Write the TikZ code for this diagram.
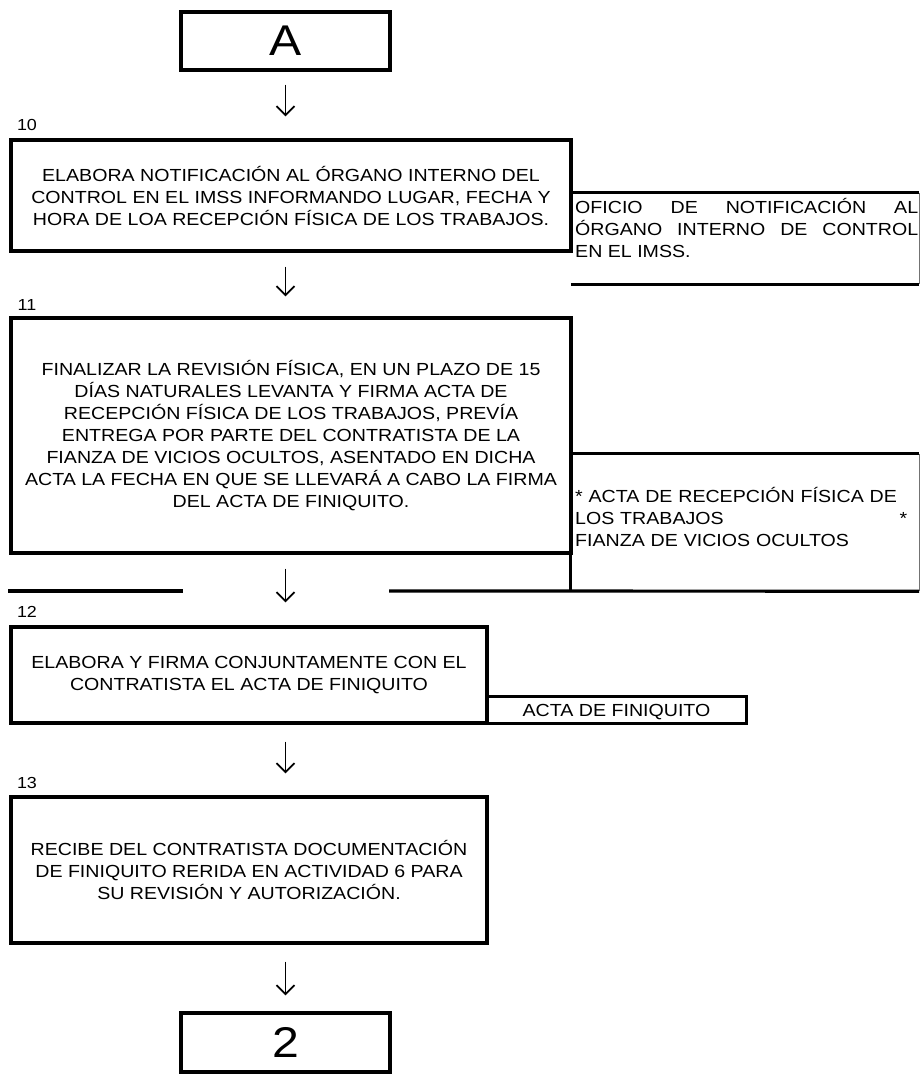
\documentclass[tikz,border=0pt]{standalone}
\usepackage{fontspec}
\setmainfont{Liberation Sans}[FakeStretch=1.12]
\usepackage{tikz}
\usetikzlibrary{arrows.meta,positioning}

\begin{document}
\begin{tikzpicture}[
    x=1pt, y=-1pt,
    font=\fontsize{17.5}{22}\selectfont,
    box/.style={draw, line width=3.2pt, align=center, inner sep=0pt},
    conn/.style={box, minimum width=209pt, minimum height=58pt, font=\fontsize{43}{43}\selectfont},
    docbox/.style={inner sep=0pt},
    doctext/.style={inner sep=0pt, anchor=base west},
    num/.style={font=\fontsize{16}{18}\selectfont, inner sep=0pt},
    flow/.style={-{Straight Barb[length=9pt,width=18pt]}, line width=1.8pt},
    hline/.style={line width=3.2pt},
    rim/.style={line width=0.8pt, black!55}
]
\useasboundingbox (0,0) rectangle (920,1087);

% connectors and steps
\node[conn] (connA) at (285.5,41) {A};
\node[num] (n10) at (27,125) {10};
\node[box, minimum width=560pt, minimum height=111pt] (b10) at (291,195.5)
    {ELABORA NOTIFICACIÓN AL ÓRGANO INTERNO DEL\\CONTROL EN EL IMSS INFORMANDO LUGAR, FECHA Y\\HORA DE LOA RECEPCIÓN FÍSICA DE LOS TRABAJOS.};
\node[num] (n11) at (27,305) {11};
\node[box, minimum width=560pt, minimum height=235pt] (b11) at (291,435.5)
    {FINALIZAR LA REVISIÓN FÍSICA, EN UN PLAZO DE 15\\DÍAS NATURALES LEVANTA Y FIRMA ACTA DE\\RECEPCIÓN FÍSICA DE LOS TRABAJOS, PREVÍA\\ENTREGA POR PARTE DEL CONTRATISTA DE LA\\FIANZA DE VICIOS OCULTOS, ASENTADO EN DICHA\\ACTA LA FECHA EN QUE SE LLEVARÁ A CABO LA FIRMA\\DEL ACTA DE FINIQUITO.};
\node[num] (n12) at (27,612) {12};
\node[box, minimum width=476pt, minimum height=96pt] (b12) at (249,675)
    {ELABORA Y FIRMA CONJUNTAMENTE CON EL\\CONTRATISTA EL ACTA DE FINIQUITO};
\node[num] (n13) at (27,783) {13};
\node[box, minimum width=476pt, minimum height=146pt] (b13) at (249,870)
    {RECIBE DEL CONTRATISTA DOCUMENTACIÓN\\DE FINIQUITO RERIDA EN ACTIVIDAD 6 PARA\\SU REVISIÓN Y AUTORIZACIÓN.};
\node[conn, minimum height=59pt] (conn2) at (285.5,1042.5) {2};

% documents
\node[docbox, minimum width=348pt, minimum height=91pt] (doc1) at (745,238.5) {};
\node[doctext, text width=343pt, align=justify] (doc1txt) at (575,213)
    {OFICIO DE NOTIFICACIÓN AL\linebreak ÓRGANO INTERNO DE CONTROL\linebreak EN EL IMSS.};
\node[docbox, minimum width=348pt, minimum height=137pt] (doc2) at (745,522.5) {};
\node[doctext, text width=332pt, align=left] (doc2txt) at (575,502)
    {* ACTA DE RECEPCIÓN FÍSICA DE\\LOS TRABAJOS\hspace{0pt plus 1filll}*\\FIANZA DE VICIOS OCULTOS};
\node[docbox, minimum width=259pt, minimum height=26pt, text height=12.5pt, text depth=0pt] (doc3) at (616.5,710) {ACTA DE FINIQUITO};

\draw[hline] (doc1.north west) -- (doc1.north east);
\draw[rim] (doc1.north east) -- (doc1.south east);
\draw[hline] (doc1.south west) -- (doc1.south east);
\draw[hline] (doc2.north east) -- (doc2.north west) -- (doc2.south west);
\draw[rim] (doc2.north east) -- (doc2.south east);
\draw[hline] (389,591) -- (doc2.south east);
\draw[hline] (8,591) -- (183,591);
\draw[hline] (doc3.north west) -- (doc3.north east) -- (doc3.south east) -- (doc3.south west);

% flow
\draw[flow, shorten <=13pt, shorten >=22pt] (connA.south) -- (connA.south |- b10.north);
\draw[flow, shorten <=14pt, shorten >=20pt] (connA.south |- b10.south) -- (connA.south |- b11.north);
\draw[flow, shorten <=14pt, shorten >=23pt] (connA.south |- b11.south) -- (connA.south |- b12.north);
\draw[flow, shorten <=17pt, shorten >=22pt] (connA.south |- b12.south) -- (connA.south |- b13.north);
\draw[flow, shorten <=17pt, shorten >=16pt] (connA.south |- b13.south) -- (conn2.north);
\end{tikzpicture}
\end{document}
